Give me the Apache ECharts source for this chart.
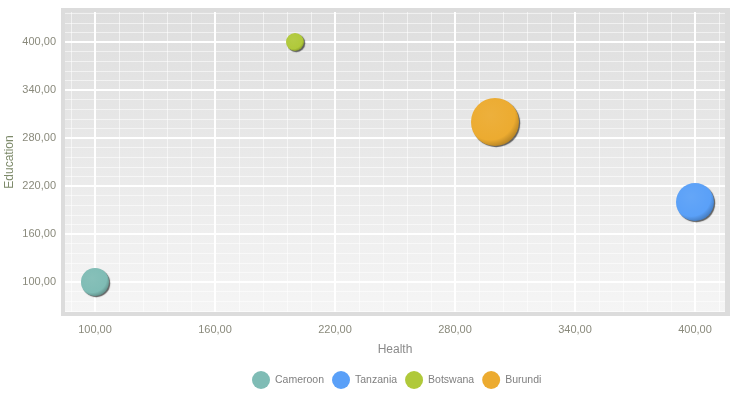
<!DOCTYPE html>
<html>
<head>
<meta charset="utf-8">
<script src="https://cdn.jsdelivr.net/npm/echarts@6/dist/echarts.min.js"></script>
<style>html,body{margin:0;padding:0;background:#fff}#c{width:738px;height:408px}</style>
</head>
<body>
<div id="c"></div>
<script>
const countries = ['Cameroon', 'Tanzania', 'Botswana', 'Burundi'];
const health = [100, 400, 200, 300];
const education = [100, 200, 400, 300];
const bubbleSize = [20, 30, 10, 40];
const xTicks = [100, 160, 220, 280, 340, 400];
const yTicks = [100, 160, 220, 280, 340, 400];
const colors = ['#7fbcb5', '#5aa0f8', '#b0c93a', '#ecab30'];

const xMin = 85, xMax = 415, yMin = 62.5, yMax = 437.5;
const xMinor = [], yMinor = [];
for (let v = 88; v <= 412; v += 12) xMinor.push(v);
for (let v = 64; v <= 436; v += 12) yMinor.push(v);

function shade(hex, f) {
  const n = parseInt(hex.slice(1), 16);
  let r = (n >> 16) & 255, g = (n >> 8) & 255, b = n & 255;
  const m = c => Math.max(0, Math.min(255, Math.round(f > 0 ? c + (255 - c) * f : c * (1 + f))));
  return 'rgb(' + m(r) + ',' + m(g) + ',' + m(b) + ')';
}
const fmt = v => v.toFixed(2).replace('.', ',');
const font = 'Liberation Sans';

const chart = echarts.init(document.getElementById('c'));
const series = countries.map((name, i) => ({
  name: name,
  type: 'scatter',
  xAxisIndex: 0,
  yAxisIndex: 0,
  symbol: 'circle',
  symbolSize: d => 8 + d[2],
  data: [[health[i], education[i], bubbleSize[i]]],
  itemStyle: {
    opacity: 1,
    color: {
      type: 'radial', x: 0.4, y: 0.36, r: 0.66,
      colorStops: [
        {offset: 0, color: shade(colors[i], 0.06)},
        {offset: 0.78, color: colors[i]},
        {offset: 1, color: shade(colors[i], -0.22)}
      ]
    },
    shadowColor: 'rgba(0,0,0,0.6)',
    shadowBlur: 1,
    shadowOffsetX: 1.2,
    shadowOffsetY: 1.2
  },
  emphasis: {disabled: true},
  z: 5
}));

chart.setOption({
  animation: false,
  graphic: [{
    type: 'rect', z: -10, silent: true,
    shape: {x: 61, y: 8, width: 669, height: 308},
    style: {fill: '#dcdcdc'}
  }],
  grid: {
    left: 65, right: 13, top: 12, bottom: 96,
    outerBoundsMode: 'none',
    containLabel: false,
    show: true, borderWidth: 0,
    backgroundColor: {
      type: 'linear', x: 0, y: 0, x2: 0, y2: 1,
      colorStops: [{offset: 0, color: '#dedede'}, {offset: 1, color: '#f5f5f5'}]
    }
  },
  legend: {
    left: 247, top: 366,
    itemWidth: 18, itemHeight: 18, itemGap: 8,
    icon: 'circle',
    itemStyle: {opacity: 1, shadowBlur: 0, shadowOffsetX: 0, shadowOffsetY: 0, shadowColor: 'rgba(0,0,0,0)'},
    textStyle: {fontFamily: font, fontSize: 10.5, color: '#808080'},
    data: countries.map((n, i) => ({name: n, itemStyle: {color: colors[i], opacity: 1}}))
  },
  xAxis: [{
    type: 'value', min: xMin, max: xMax,
    name: 'Health', nameLocation: 'middle', nameGap: 32, nameMoveOverlap: false,
    nameTextStyle: {fontFamily: font, fontSize: 12, color: '#8a8a8a'},
    axisLine: {show: false}, axisTick: {show: false, customValues: xTicks},
    axisLabel: {customValues: xTicks, formatter: fmt, margin: 12, fontFamily: font, fontSize: 11, color: '#8a8a7c'},
    splitLine: {show: true, lineStyle: {color: '#ffffff', width: 2}}
  }, {
    type: 'value', min: xMin, max: xMax, position: 'top',
    axisLine: {show: false}, axisTick: {show: false, customValues: xMinor},
    axisLabel: {show: false, customValues: xMinor},
    splitLine: {show: true, lineStyle: {color: 'rgba(255,255,255,0.55)', width: 1}}
  }],
  yAxis: [{
    type: 'value', min: yMin, max: yMax,
    name: 'Education', nameLocation: 'middle', nameGap: 49, nameMoveOverlap: false,
    nameTextStyle: {fontFamily: font, fontSize: 12, color: '#7d8a6a'},
    axisLine: {show: false}, axisTick: {show: false, customValues: yTicks},
    axisLabel: {customValues: yTicks, formatter: fmt, margin: 9, fontFamily: font, fontSize: 11, color: '#8a8a7c'},
    splitLine: {show: true, lineStyle: {color: '#ffffff', width: 2}}
  }, {
    type: 'value', min: yMin, max: yMax, position: 'right',
    axisLine: {show: false}, axisTick: {show: false, customValues: yMinor},
    axisLabel: {show: false, customValues: yMinor},
    splitLine: {show: true, lineStyle: {color: 'rgba(255,255,255,0.55)', width: 1}}
  }],
  series: series
});
</script>
</body>
</html>
